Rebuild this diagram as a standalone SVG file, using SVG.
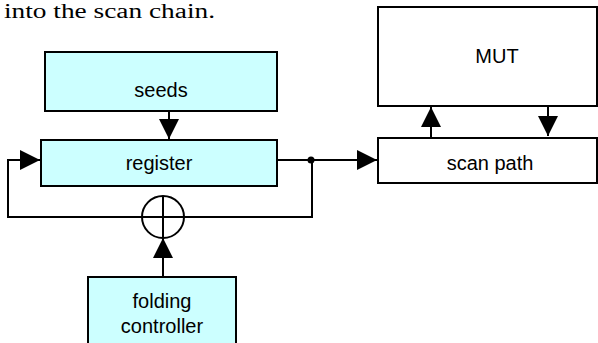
<svg xmlns="http://www.w3.org/2000/svg" width="598" height="343" viewBox="0 0 598 343">
<style>
.box{stroke:#000;stroke-width:2}
.cy{fill:#CCFFFF}
.wh{fill:#FFFFFF}
.lbl{font-family:"Liberation Sans",Arial,sans-serif;font-size:20px;text-anchor:middle;fill:#000}
.ln{fill:none;stroke:#000;stroke-width:2}
</style>
<defs>
<marker id="ah" markerUnits="userSpaceOnUse" markerWidth="20" markerHeight="20" refX="20" refY="10" orient="auto" viewBox="0 0 20 20">
<path d="M0,0 L20,10 L0,20 z" fill="#000"/>
</marker>
</defs>
<rect width="598" height="343" fill="#fff"/>
<text x="4" y="18" font-family="'Liberation Serif','Times New Roman',serif" font-size="20" textLength="211" lengthAdjust="spacingAndGlyphs">into the scan chain.</text>
<g id="connectors">
<path class="ln" d="M169,111 L169,139" marker-end="url(#ah)"/>
<path class="ln" d="M312,160 L312,217 L8,217 L8,160 L40,160" marker-end="url(#ah)"/>
<path class="ln" d="M277,160 L377,160" marker-end="url(#ah)"/>
<circle cx="311" cy="160" r="3.5" fill="#000"/>
<path class="ln" d="M163,277 L163,238" marker-end="url(#ah)"/>
<path class="ln" d="M431,138 L431,107" marker-end="url(#ah)"/>
<path class="ln" d="M548,106 L548,136" marker-end="url(#ah)"/>
</g>
<g id="seeds">
<rect class="box cy" x="45" y="52" width="232" height="59"/>
<text class="lbl" x="161" y="97">seeds</text>
</g>
<g id="register">
<rect class="box cy" x="41" y="140" width="236" height="46"/>
<text class="lbl" x="159" y="170">register</text>
</g>
<g id="xor">
<circle cx="163" cy="217" r="21" fill="none" stroke="#000" stroke-width="2"/>
<line x1="163" y1="196" x2="163" y2="238" stroke="#000" stroke-width="2"/>
</g>
<g id="folding-controller">
<rect class="box cy" x="88" y="277" width="148" height="80"/>
<text class="lbl" x="162" y="308">folding</text>
<text class="lbl" x="162" y="333">controller</text>
</g>
<g id="mut">
<rect class="box wh" x="378" y="7" width="219" height="99"/>
<text class="lbl" x="497" y="63">MUT</text>
</g>
<g id="scan-path">
<rect class="box wh" x="378" y="138" width="219" height="45"/>
<text class="lbl" x="490" y="170">scan path</text>
</g>
</svg>
